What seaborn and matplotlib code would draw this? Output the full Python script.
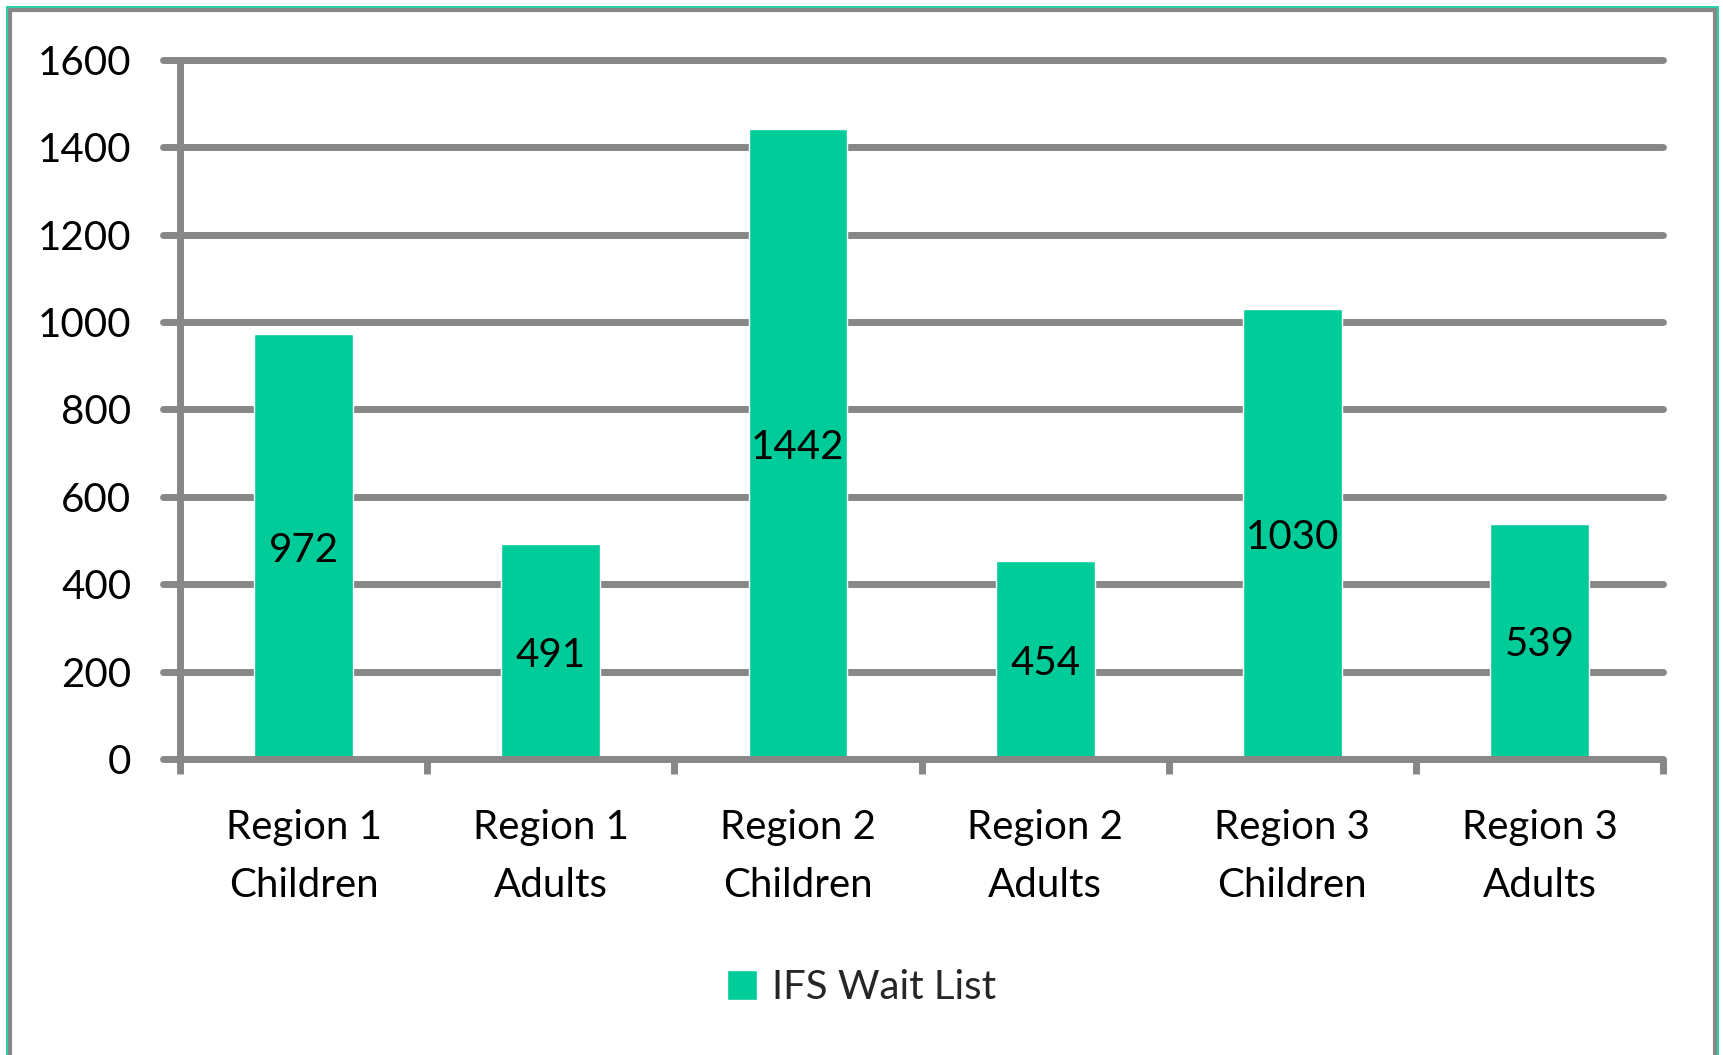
import matplotlib
matplotlib.use("Agg")
import matplotlib.pyplot as plt
from matplotlib.patches import Rectangle
import pandas as pd
import seaborn as sns

# data
categories = ["Region 1\nChildren", "Region 1\nAdults", "Region 2\nChildren",
              "Region 2\nAdults", "Region 3\nChildren", "Region 3\nAdults"]
wait_list = [972, 491, 1442, 454, 1030, 539]
series_name = "IFS Wait List"
y_ticks = [0, 200, 400, 600, 800, 1000, 1200, 1400, 1600]

bar_color = "#00CC99"
grid_gray = "#878787"

sns.set_theme(style="white")
plt.rcParams["font.family"] = ["Lato", "DejaVu Sans"]

df = pd.DataFrame({"cat": categories, "val": wait_list})

fig = plt.figure(figsize=(17.23, 10.55), dpi=100)
ax = fig.add_axes([0.1045, 0.2806, 0.8607, 0.6625])

sns.barplot(data=df, x="cat", y="val", color=bar_color, saturation=1,
            width=0.4, ax=ax, label=series_name, zorder=3)

ax.set_xlim(-0.5, len(categories) - 0.5)
ax.set_ylim(0, 1600)
ax.set_yticks(y_ticks)
ax.set_xlabel("")
ax.set_ylabel("")

# gridlines with round ends
for yv in y_ticks[1:]:
    ax.axhline(yv, color=grid_gray, lw=5, solid_capstyle="round", zorder=1,
               xmin=-17 / 1483, clip_on=False)
ax.axhline(0, color=grid_gray, lw=5, solid_capstyle="round", zorder=4,
           xmin=-17 / 1483, clip_on=False)

for s in ["top", "right"]:
    ax.spines[s].set_visible(False)
ax.spines["left"].set_color(grid_gray)
ax.spines["left"].set_linewidth(5)
ax.spines["left"].set_zorder(4)
ax.spines["left"].set_bounds(0, 1600)
ax.spines["bottom"].set_visible(False)

ax.tick_params(axis="y", length=0, pad=35, labelsize=29, labelcolor="black")
ax.tick_params(axis="x", which="major", length=0, pad=36, labelsize=29,
               labelcolor="black")
for lbl in ax.get_xticklabels():
    lbl.set_linespacing(1.7)

# category boundary ticks
ax.set_xticks([i - 0.5 for i in range(len(categories) + 1)], minor=True)
ax.tick_params(axis="x", which="minor", length=11, width=5, color=grid_gray,
               bottom=True)

# value labels in the middle of the bars
for i, v in enumerate(wait_list):
    ax.text(i, v / 2, str(v), ha="center", va="center_baseline", fontsize=29,
            color="black", zorder=5)

leg = ax.legend(loc="center", bbox_to_anchor=(0.5, 0.064),
                bbox_transform=fig.transFigure, frameon=False, fontsize=29,
                handlelength=0.75, handleheight=0.75, handletextpad=0.35)

# outer chart frame
fig.patches.append(Rectangle((7 / 1723, -0.05), 1711 / 1723, 1.05 - 7 / 1055,
                             transform=fig.transFigure, fill=False,
                             edgecolor=bar_color, lw=1.2, zorder=0))
fig.patches.append(Rectangle((10 / 1723, -0.05), 1705 / 1723, 1.05 - 10 / 1055,
                             transform=fig.transFigure, fill=False,
                             edgecolor=grid_gray, lw=3, zorder=0))

fig.savefig("out.png", dpi=100)
